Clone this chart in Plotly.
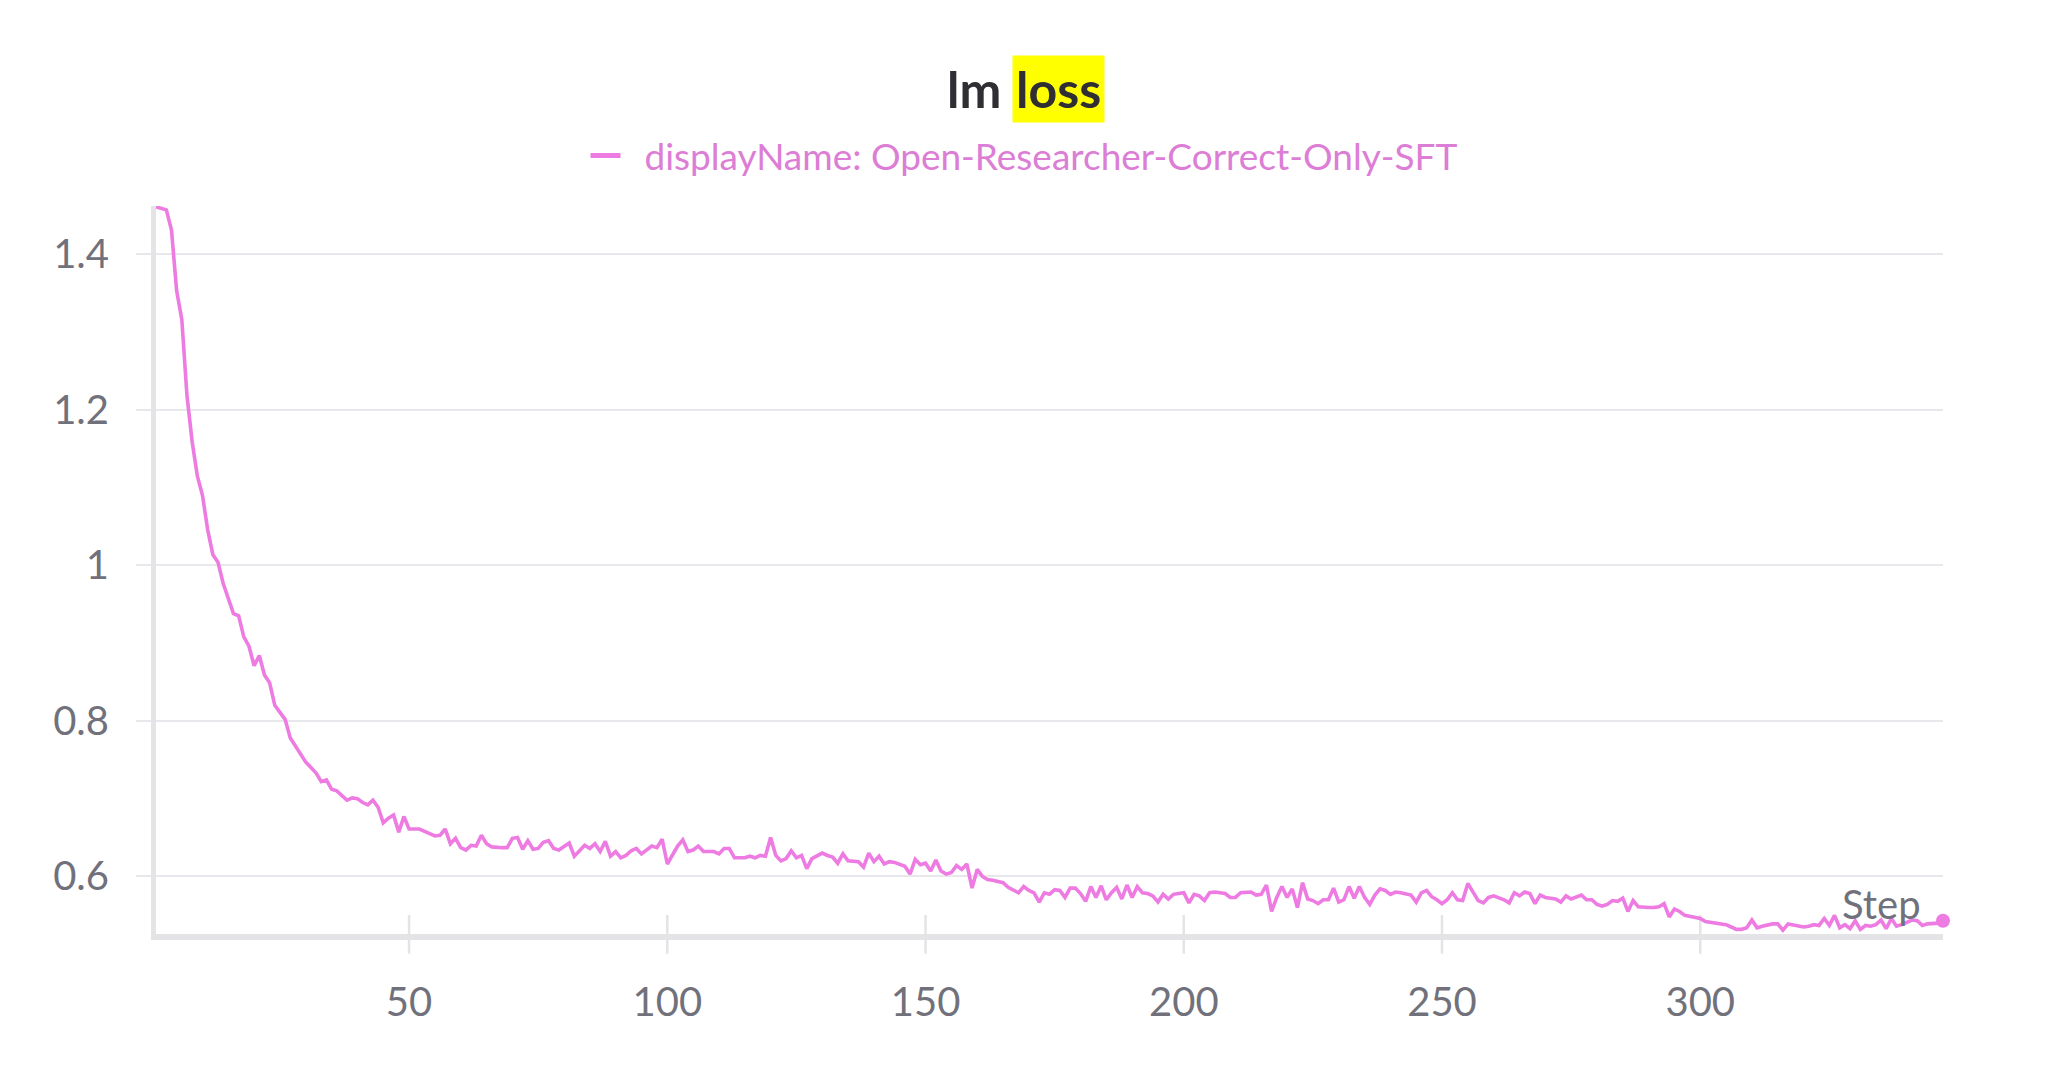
import plotly.graph_objects as go

# ---- data ----
loss = [
    1.461, 1.459, 1.457, 1.431, 1.353, 1.316, 1.218, 1.159, 1.115, 1.090,
    1.046, 1.014, 1.004, 0.977, 0.957, 0.938, 0.935, 0.908, 0.896, 0.871,
    0.884, 0.859, 0.849, 0.820, 0.811, 0.802, 0.778, 0.768, 0.757, 0.747,
    0.740, 0.733, 0.722, 0.724, 0.712, 0.710, 0.704, 0.698, 0.701, 0.700,
    0.695, 0.692, 0.698, 0.689, 0.669, 0.675, 0.679, 0.657, 0.677, 0.661,
    0.661, 0.661, 0.658, 0.655, 0.652, 0.653, 0.661, 0.642, 0.649, 0.637,
    0.634, 0.640, 0.639, 0.653, 0.642, 0.638, 0.637, 0.637, 0.637, 0.649,
    0.650, 0.635, 0.646, 0.635, 0.636, 0.644, 0.646, 0.636, 0.634, 0.639,
    0.643, 0.626, 0.633, 0.640, 0.636, 0.642, 0.632, 0.645, 0.626, 0.632,
    0.624, 0.627, 0.633, 0.636, 0.629, 0.634, 0.639, 0.637, 0.648, 0.616,
    0.627, 0.639, 0.647, 0.632, 0.634, 0.639, 0.632, 0.632, 0.632, 0.629,
    0.636, 0.636, 0.624, 0.624, 0.624, 0.626, 0.624, 0.627, 0.626, 0.650,
    0.627, 0.620, 0.623, 0.633, 0.624, 0.627, 0.610, 0.623, 0.627, 0.630,
    0.627, 0.625, 0.617, 0.629, 0.620, 0.620, 0.619, 0.612, 0.630, 0.619,
    0.626, 0.616, 0.619, 0.618, 0.616, 0.613, 0.603, 0.622, 0.615, 0.617,
    0.607, 0.621, 0.607, 0.603, 0.605, 0.614, 0.609, 0.616, 0.585, 0.609,
    0.600, 0.596, 0.595, 0.594, 0.592, 0.586, 0.583, 0.579, 0.587, 0.582,
    0.579, 0.567, 0.579, 0.577, 0.583, 0.582, 0.573, 0.585, 0.585, 0.578,
    0.568, 0.587, 0.573, 0.588, 0.570, 0.579, 0.586, 0.571, 0.589, 0.573,
    0.587, 0.579, 0.578, 0.575, 0.567, 0.577, 0.571, 0.577, 0.578, 0.579,
    0.566, 0.577, 0.575, 0.569, 0.579, 0.580, 0.579, 0.578, 0.573, 0.573,
    0.579, 0.580, 0.580, 0.576, 0.577, 0.589, 0.555, 0.573, 0.587, 0.573,
    0.584, 0.560, 0.592, 0.571, 0.569, 0.565, 0.570, 0.570, 0.585, 0.567,
    0.570, 0.587, 0.572, 0.587, 0.573, 0.564, 0.576, 0.584, 0.582, 0.577,
    0.580, 0.579, 0.578, 0.576, 0.567, 0.579, 0.582, 0.574, 0.570, 0.565,
    0.570, 0.579, 0.570, 0.569, 0.591, 0.580, 0.569, 0.566, 0.573, 0.575,
    0.573, 0.570, 0.566, 0.579, 0.575, 0.580, 0.578, 0.565, 0.576, 0.573,
    0.572, 0.571, 0.567, 0.575, 0.571, 0.574, 0.576, 0.570, 0.570, 0.564,
    0.562, 0.564, 0.569, 0.568, 0.572, 0.555, 0.569, 0.561, 0.560, 0.560,
    0.560, 0.561, 0.565, 0.548, 0.558, 0.555, 0.550, 0.549, 0.547, 0.546,
    0.542, 0.541, 0.541, 0.539, 0.538, 0.535, 0.532, 0.532, 0.534, 0.544,
    0.534, 0.536, 0.538, 0.539, 0.539, 0.531, 0.539, 0.538, 0.537, 0.535,
    0.536, 0.538, 0.537, 0.546, 0.537, 0.550, 0.534, 0.538, 0.533, 0.543,
    0.532, 0.537, 0.536, 0.538, 0.544, 0.533, 0.546, 0.536, 0.538, 0.541,
    0.544, 0.543, 0.537, 0.539, 0.539, 0.540, 0.543,
]
steps = list(range(1, len(loss) + 1))

x_ticks = [50, 100, 150, 200, 250, 300]
y_ticks = [0.6, 0.8, 1.0, 1.2, 1.4]
y_tick_labels = ["0.6", "0.8", "1", "1.2", "1.4"]

title_plain = "lm"
title_highlight = "loss"
series_name = "displayName: Open-Researcher-Correct-Only-SFT"
x_label = "Step"

# ---- styles ----
LINE = "#ed7be1"
LEGEND_TXT = "#dc7dd6"
GRID = "#e8e8ec"
AXIS = "#e4e4e6"
TICKTXT = "#71717c"
FONT = "Lato, 'Source Sans Pro', 'Open Sans', sans-serif"

fig = go.Figure()
fig.add_trace(go.Scatter(
    x=steps, y=loss, mode="lines",
    line=dict(color=LINE, width=3.6),
    showlegend=False, hoverinfo="skip",
))
fig.add_trace(go.Scatter(
    x=[steps[-1]], y=[loss[-1]], mode="markers",
    marker=dict(color=LINE, size=14),
    cliponaxis=False, showlegend=False, hoverinfo="skip",
))
# legend entry
fig.add_trace(go.Scatter(
    x=[None], y=[None], mode="lines",
    line=dict(color=LINE, width=5),
    name="&nbsp;&nbsp;" + series_name, showlegend=True,
))

# x tick marks crossing the axis line
for t in x_ticks:
    fig.add_shape(type="line", xref="x", yref="paper",
                  x0=t, x1=t, y0=-0.027, y1=0.026,
                  line=dict(color=AXIS, width=2.5), layer="below")

fig.update_layout(
    width=2048, height=1076,
    margin=dict(l=156, r=105, t=206, b=142),
    paper_bgcolor="white", plot_bgcolor="white",
    font=dict(family=FONT, color=TICKTXT),
    showlegend=True,
    legend=dict(
        orientation="h", xref="container", yref="container",
        x=0.5, xanchor="center", y=1 - 156 / 1076, yanchor="middle",
        font=dict(size=37, color=LEGEND_TXT, family=FONT),
        itemwidth=30, bgcolor="rgba(0,0,0,0)",
    ),
    xaxis=dict(
        range=[1, 347], tickvals=x_ticks,
        showgrid=False, zeroline=False,
        showline=True, linecolor=AXIS, linewidth=6,
        ticks="", tickfont=dict(size=40, color=TICKTXT, family=FONT),
        ticklabelstandoff=28,
    ),
    yaxis=dict(
        range=[0.526, 1.462], tickvals=y_ticks, ticktext=y_tick_labels,
        showgrid=True, gridcolor=GRID, gridwidth=2, zeroline=False,
        showline=True, linecolor=AXIS, linewidth=5,
        ticks="outside", ticklen=15, tickcolor=GRID, tickwidth=2,
        tickfont=dict(size=40, color=TICKTXT, family=FONT),
        ticklabelstandoff=19,
    ),
    annotations=[
        dict(text=title_plain, xref="paper", yref="paper",
             x=(1003 - 156) / 1787, y=(934 - 89) / 728,
             xanchor="right", yanchor="middle", showarrow=False,
             font=dict(size=50, color="#2e2e33", family=FONT, weight="bold")),
        dict(text=title_highlight, xref="paper", yref="paper",
             x=(1012 - 156) / 1787, y=(934 - 89) / 728,
             xanchor="left", yanchor="middle", showarrow=False,
             bgcolor="#ffff00", borderpad=3,
             font=dict(size=50, color="#2e2e33", family=FONT, weight="bold")),
        dict(text=x_label, xref="paper", yref="paper",
             x=(1923 - 156) / 1787, y=(934 - 904) / 728,
             xanchor="right", yanchor="middle", showarrow=False,
             font=dict(size=40, color=TICKTXT, family=FONT)),
    ],
)

fig.write_html("out.html",
               config={"displayModeBar": False},
               post_script="document.body.style.margin='0';document.body.style.overflow='hidden';")
